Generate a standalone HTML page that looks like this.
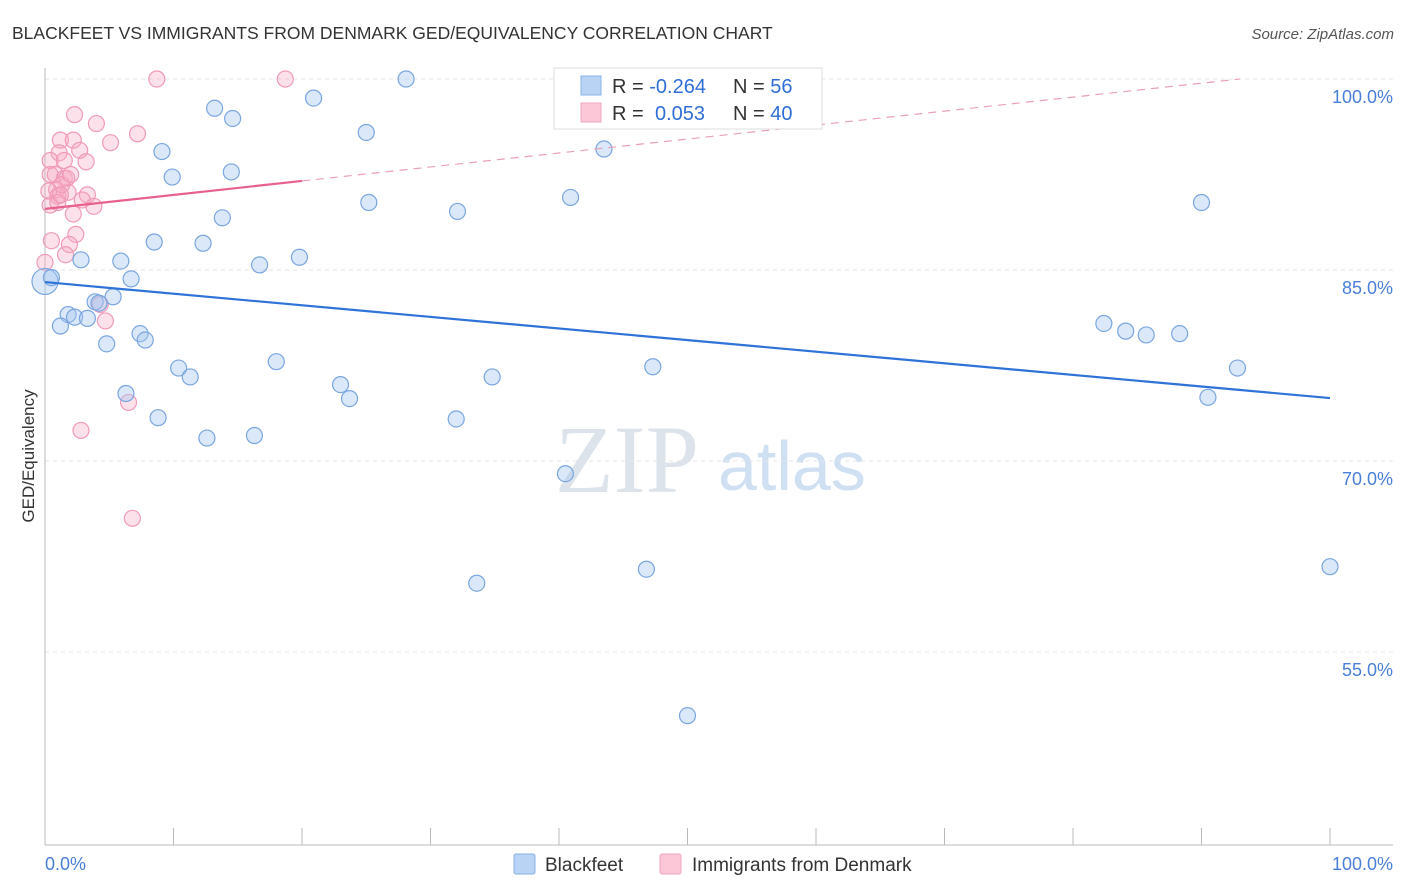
<!DOCTYPE html>
<html><head><meta charset="utf-8">
<style>
body{margin:0;background:#fff;font-family:"Liberation Sans",sans-serif;}
#wrap{position:relative;width:1406px;height:892px;overflow:hidden;}
</style></head>
<body>
<div id="wrap">
<svg id="svg" width="1406" height="892" xmlns="http://www.w3.org/2000/svg">
<text x="12" y="39" font-size="17.5" fill="#333">BLACKFEET VS IMMIGRANTS FROM DENMARK GED/EQUIVALENCY CORRELATION CHART</text>
<text x="1394" y="39" font-size="15" fill="#555" font-style="italic" text-anchor="end">Source: ZipAtlas.com</text>
<text x="34" y="456" font-size="17" fill="#333" text-anchor="middle" transform="rotate(-90 34 456)">GED/Equivalency</text>
<text x="555" y="492" font-size="96" fill="#dde3ea" font-family="Liberation Serif,serif">ZIP</text>
<text x="718" y="490" font-size="70" fill="#cfe0f3">atlas</text>
<g id="grid"></g>
<g id="marks"></g>
<g>
<rect x="554" y="68" width="268" height="61" fill="#fff" stroke="#ddd"/>
<rect x="581" y="76" width="20" height="19" fill="#b9d3f5" stroke="#88b0e6"/>
<rect x="581" y="103" width="20" height="19" fill="#fcc8d8" stroke="#f3a5bf"/>
<text x="612" y="93" font-size="20" fill="#333">R = <tspan fill="#2f6fd6">-0.264</tspan><tspan x="733">N = </tspan><tspan fill="#2f6fd6">56</tspan></text>
<text x="612" y="120" font-size="20" fill="#333">R = <tspan x="655" fill="#2f6fd6">0.053</tspan><tspan x="733">N = </tspan><tspan fill="#2f6fd6">40</tspan></text>
</g>
<g>
<rect x="514" y="854" width="21" height="20" fill="#b9d3f5" stroke="#88b0e6" rx="2"/>
<text x="545" y="871" font-size="19" fill="#333">Blackfeet</text>
<rect x="660" y="854" width="21" height="20" fill="#fcc8d8" stroke="#f3a5bf" rx="2"/>
<text x="692" y="871" font-size="19" fill="#333">Immigrants from Denmark</text>
</g>
<text x="45" y="870" font-size="18" fill="#4a7fd8">0.0%</text>
<text x="1393" y="870" font-size="18" fill="#4a7fd8" text-anchor="end">100.0%</text>
</svg>
</div>
<script>
const yTicks=[100,85,70,55];
const yTickLabels=["100.0%","85.0%","70.0%","55.0%"];
const blueX=[28.1,20.9,13.2,14.6,25.0,9.1,43.5,9.9,14.5,40.9,25.2,32.1,13.8,90.0,8.5,12.3,2.8,5.9,16.7,19.8,6.7,0,5.3,3.9,4.2,1.8,2.3,3.3,1.2,7.4,7.8,4.8,82.4,84.1,85.7,88.3,18.0,10.4,11.3,34.8,47.3,92.8,23.0,23.7,6.3,90.5,8.8,32.0,12.6,16.3,40.5,33.6,46.8,100,50.0,0.5];
const blueY=[100,98.5,97.7,96.9,95.8,94.3,94.5,92.3,92.7,90.7,90.3,89.6,89.1,90.3,87.2,87.1,85.8,85.7,85.4,86.0,84.3,84.1,82.9,82.5,82.4,81.5,81.3,81.2,80.6,80.0,79.5,79.2,80.8,80.2,79.9,80.0,77.8,77.3,76.6,76.6,77.4,77.3,76.0,74.9,75.3,75.0,73.4,73.3,71.8,72.0,69.0,60.4,61.5,61.7,50.0,84.4];
const pinkX=[8.7,18.7,2.3,4.0,7.2,1.2,2.2,5.1,2.7,1.1,0.4,3.2,0.4,0.8,1.5,1.7,0.9,1.8,3.3,1.0,2.9,0.4,3.8,1.0,2.2,2.4,0.5,1.9,1.6,4.3,4.7,6.5,2.8,6.8,0,1.3,0.3,1.2,1.5,2.0];
const pinkY=[100,100,97.2,96.5,95.7,95.2,95.2,95.0,94.4,94.2,93.6,93.5,92.5,92.5,92.2,92.2,91.3,91.1,90.9,90.8,90.5,90.1,90.0,90.3,89.4,87.8,87.3,87.0,86.2,82.3,81.0,74.6,72.4,65.5,85.6,91.7,91.2,90.9,93.6,92.5];
const blueTrend=[84.05,74.94];
const pinkTrend=[89.8,100.77];
const X0=45,X1=1330,YT=79,PXPER=12.733;
const sx=v=>X0+(X1-X0)*v/100;
const sy=v=>YT+(100-v)*PXPER;
const NS="http://www.w3.org/2000/svg";
const grid=document.getElementById('grid'),marks=document.getElementById('marks');
function mk(tag,at,parent){const e=document.createElementNS(NS,tag);for(const k in at)e.setAttribute(k,at[k]);parent.appendChild(e);return e;}
yTicks.forEach((t,i)=>{
 const l=mk('line',{x1:45,x2:1393,y1:sy(t),y2:sy(t),stroke:'#e4e4e4','stroke-dasharray':'4,4'},grid);
 
 
 const tx=mk('text',{x:1393,y:sy(t)+24,'font-size':18,fill:'#4a7fd8','text-anchor':'end'},grid);
 tx.textContent=yTickLabels[i];
 
 
});
const ax=mk('line',{x1:45,x2:45,y1:68,y2:845,stroke:'#bbb'},grid);


const bx=mk('line',{x1:45,x2:1393,y1:845,y2:845,stroke:'#bbb'},grid);


for(let i=0;i<=10;i++){const t=mk('line',{x1:sx(i*10),x2:sx(i*10),y1:828,y2:845,stroke:'#bbb'},grid);
 
 }
pinkX.forEach((v,i)=>{const c=mk('circle',{cx:sx(v),cy:sy(pinkY[i]),r:8,fill:'rgba(246,168,196,0.35)',stroke:'#f09ab9','stroke-width':1.2},marks);
 
 });
blueX.forEach((v,i)=>{const c=mk('circle',{cx:sx(v),cy:sy(blueY[i]),r:(i==21?13:8),fill:'rgba(165,198,240,0.4)',stroke:'#7aa6e0','stroke-width':1.2},marks);
 
 });
const bl=mk('line',{x1:sx(0),y1:sy(blueTrend[0]),x2:sx(100),y2:sy(blueTrend[1]),stroke:'#2f72d8','stroke-width':2.2},marks);


const ps=(pinkTrend[1]-pinkTrend[0])/100;
const xEnd=Math.min((100-pinkTrend[0])/ps,100);
const pd=mk('line',{x1:sx(20),y1:sy(pinkTrend[0]+ps*20),x2:sx(xEnd),y2:sy(pinkTrend[0]+ps*xEnd),stroke:'#eaa0b8','stroke-width':1.2,'stroke-dasharray':'8,6'},marks);


const pl=mk('line',{x1:sx(0),y1:sy(pinkTrend[0]),x2:sx(20),y2:sy(pinkTrend[0]+ps*20),stroke:'#e8608d','stroke-width':2.2},marks);


</script>
</body></html>
